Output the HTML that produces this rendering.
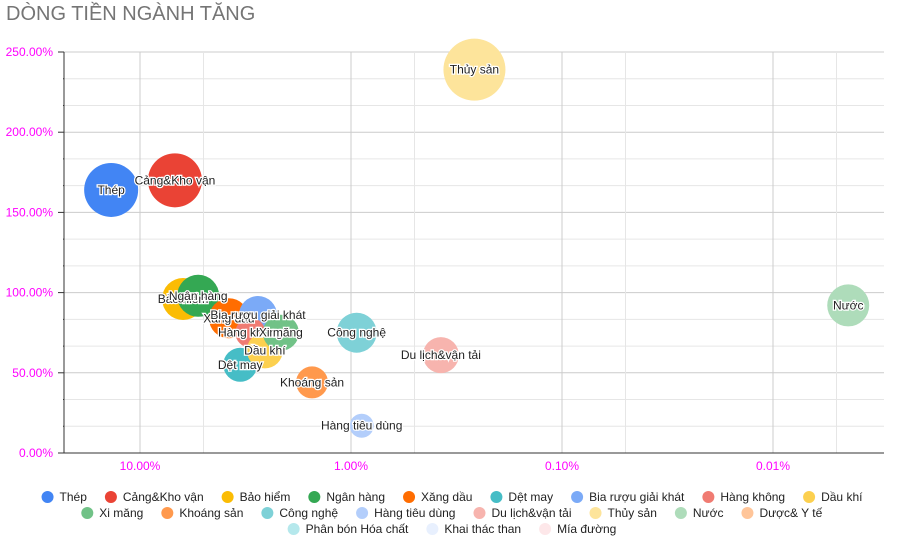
<!DOCTYPE html>
<html><head><meta charset="utf-8"><style>
body{margin:0;background:#fff;width:904px;height:543px;overflow:hidden;font-family:"Liberation Sans",Arial,sans-serif}
#title{position:absolute;left:6px;top:3px;font-size:20px;color:#757575}
</style></head><body>
<div id="title">DÒNG TIỀN NGÀNH TĂNG</div>
<svg id="chart" width="904" height="543" style="position:absolute;left:0;top:0"></svg>
<script>
const names=["Thép","Cảng&Kho vận","Bảo hiểm","Ngân hàng","Xăng dầu","Dệt may","Bia rượu giải khát","Hàng không","Dầu khí","Xi măng","Khoáng sản","Công nghệ","Hàng tiêu dùng","Du lịch&vận tải","Thủy sản","Nước","Dược& Y tế","Phân bón Hóa chất","Khai thác than","Mía đường"];
const colors=["#4285F4","#EA4335","#FBBC04","#34A853","#FF6D01","#46BDC6","#7BAAF7","#F07B72","#FCD04F","#71C287","#FF994D","#7ED1D7","#B3CEFB","#F7B4AE","#FDE49B","#AEDCBA","#FFC599","#B5E8EC","#E8F0FE","#FDE7E9"];
const xVals=[13.7,6.83,6.25,5.3,3.79,3.35,2.76,3.0,2.56,2.15,1.53,0.94,0.89,0.375,0.26,0.0044];
const yVals=[164,170,96,98,84,55,86,75,64,75,44,75,17,61,239,92];
const sizes=[27,27,21,21,20,17,19,15,18,18,16,20,12,18,31,21];
const yTicks=[0,50,100,150,200,250];
const xTicks=[10,1,0.1,0.01];
const xTickLabels=["10.00%","1.00%","0.10%","0.01%"];
const NS="http://www.w3.org/2000/svg";
const svg=document.getElementById('chart');
const L=64,R=884,T=52,B=453;
const xs=v=>140+211*Math.log10(10/v);
const ys=v=>B-(B-T)*v/250;
function mk(t,a,p){const e=document.createElementNS(NS,t);for(const k in a)e.setAttribute(k,a[k]);(p||svg).appendChild(e);return e;}
for(let i=0;i<=15;i++){const v=i*250/15;const y=ys(v);const major=i%3==0;
 const g=mk('line',{x1:L,x2:R,y1:y,y2:y,stroke:major?'#ccc':'#e6e6e6','stroke-width':1});
 
 const t=mk('line',{x1:major?58:L-1,x2:L,y1:y,y2:y,stroke:'#333'});
 }
for(const d of [100,10,1,0.1,0.01,0.001]){for(const m of [1,0.5]){const v=d*m;const x=xs(v);if(x<L||x>R)continue;
 const g=mk('line',{x1:x,x2:x,y1:T,y2:B,stroke:m==1?'#ccc':'#e6e6e6'});
 }}
yTicks.forEach(v=>{const t=mk('text',{x:53,y:ys(v)+4,'text-anchor':'end','font-size':12,fill:'#ff00ff'});t.textContent=v.toFixed(2)+'%';
 });
xTicks.forEach((v,i)=>{const t=mk('text',{x:xs(v),y:470,'text-anchor':'middle','font-size':12,fill:'#ff00ff'});t.textContent=xTickLabels[i];
 });
mk('line',{x1:L,x2:L,y1:T,y2:B,stroke:'#333'});
mk('line',{x1:L,x2:R,y1:B,y2:B,stroke:'#333'});
xVals.forEach((v,i)=>{const c=mk('circle',{cx:xs(v),cy:ys(yVals[i]),r:sizes[i],fill:colors[i]});
 });
xVals.forEach((v,i)=>{const t=mk('text',{x:xs(v),y:ys(yVals[i])+4,'text-anchor':'middle','font-size':12,fill:'#222',stroke:'#fff','stroke-width':2.5,'paint-order':'stroke'});t.textContent=names[i];
 });
const rows=[[0,9],[9,17],[17,20]];const rowY=[501,517,533];
const ctx=document.createElement('canvas').getContext('2d');ctx.font='12px "Liberation Sans"';
rows.forEach((r,ri)=>{const items=names.slice(r[0],r[1]);const ws=items.map(n=>18+ctx.measureText(n).width+18);
 const tot=ws.reduce((a,b)=>a+b,0)-18;let x=452-tot/2;
 items.forEach((n,j)=>{const i=r[0]+j;const g=mk('g',{});
  mk('circle',{cx:x+6,cy:rowY[ri]-4,r:6,fill:colors[i]},g);
  const t=mk('text',{x:x+18,y:rowY[ri],'font-size':12,fill:'#222'},g);t.textContent=n;x+=ws[j];});});
</script>
</body></html>
